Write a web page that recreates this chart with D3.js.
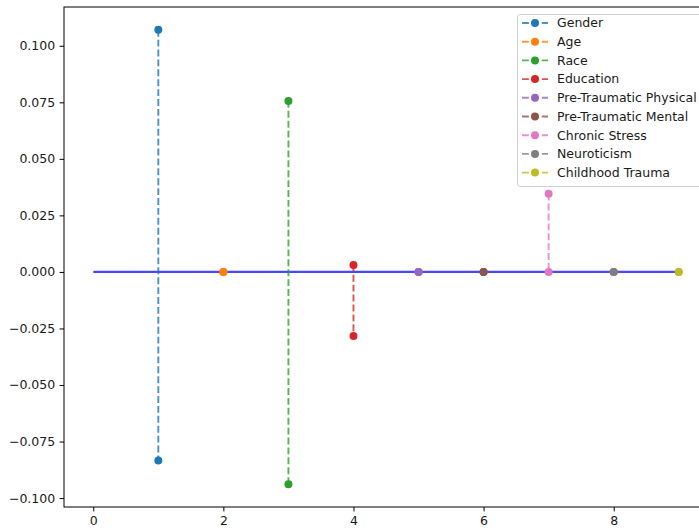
<!DOCTYPE html>
<html>
<head>
<meta charset="utf-8">
<script src="https://cdn.jsdelivr.net/npm/d3@7"></script>
<style>
  html, body { margin: 0; padding: 0; background: #fff; overflow: hidden; }
  svg { display: block; font-family: "DejaVu Sans", sans-serif; }
</style>
</head>
<body>
<svg id="chart" width="699" height="531"></svg>
<script>
// ---- data ----
const categories = ["Gender", "Age", "Race", "Education", "Pre-Traumatic Physical",
  "Pre-Traumatic Mental", "Chronic Stress", "Neuroticism", "Childhood Trauma"];
const xPositions = [1, 2, 3, 4, 5, 6, 7, 8, 9];
const highValues = [0.1071, 0.0, 0.0756, 0.0031, 0.0, 0.0, 0.0346, 0.0, 0.0];
const lowValues  = [-0.0834, 0.0, -0.0939, -0.0283, 0.0, 0.0, 0.0, 0.0, 0.0];
const colors = ["#1f77b4", "#ff7f0e", "#2ca02c", "#d62728", "#9467bd",
  "#8c564b", "#e377c2", "#7f7f7f", "#bcbd22"];
const baselineX = [0, 9];
const baselineY = [0, 0];
const xTicks = [0, 2, 4, 6, 8];
const yTicks = [-0.100, -0.075, -0.050, -0.025, 0.000, 0.025, 0.050, 0.075, 0.100];

// ---- layout ----
const svg = d3.select("#chart");
const mLeft = 64, mTop = 7, mRight = 708, mBottom = 507;
const FS = 12.5;

const xMin = 0, xMax = 9;
const xPad = (xMax - xMin) * 0.05;
const x = d3.scaleLinear().domain([xMin - xPad, xMax + xPad]).range([mLeft, mRight]);
const yLo = d3.min(lowValues), yHi = d3.max(highValues);
const yPad = (yHi - yLo) * 0.05;
const y = d3.scaleLinear().domain([yLo - yPad, yHi + yPad]).range([mBottom, mTop]);

const fmt = v => d3.format(".3f")(v).replace("-", "\u2212");

// axes
const gx = svg.append("g").attr("transform", `translate(0,${mBottom})`)
  .call(d3.axisBottom(x).tickValues(xTicks).tickFormat(d3.format("d")).tickSize(4.4).tickPadding(4.4));
const gy = svg.append("g").attr("transform", `translate(${mLeft},0)`)
  .call(d3.axisLeft(y).tickValues(yTicks).tickFormat(fmt).tickSize(4.4).tickPadding(4.4));
[gx, gy].forEach(g => {
  g.select(".domain").remove();
  g.selectAll("text").attr("font-size", FS).attr("fill", "#1a1a1a")
    .attr("font-family", "DejaVu Sans, sans-serif");
  g.selectAll("line").attr("stroke", "#000").attr("stroke-width", 1);
});

// plot region clip
svg.append("clipPath").attr("id", "clip").append("rect")
  .attr("x", mLeft).attr("y", mTop).attr("width", mRight - mLeft).attr("height", mBottom - mTop);
const plot = svg.append("g").attr("clip-path", "url(#clip)");

// baseline
plot.append("line")
  .attr("x1", x(baselineX[0])).attr("x2", x(baselineX[1]))
  .attr("y1", y(baselineY[0])).attr("y2", y(baselineY[1]))
  .attr("stroke", "#0000ff").attr("stroke-opacity", 0.72).attr("stroke-width", 2.3);

// stems
categories.forEach((c, i) => {
  const g = plot.append("g");
  g.append("line")
    .attr("x1", x(xPositions[i])).attr("x2", x(xPositions[i]))
    .attr("y1", y(highValues[i])).attr("y2", y(lowValues[i]))
    .attr("stroke", colors[i]).attr("stroke-width", 1.9)
    .attr("stroke-dasharray", "6.9,3").attr("stroke-opacity", 0.8);
  [highValues[i], lowValues[i]].forEach(v => {
    g.append("circle").attr("cx", x(xPositions[i])).attr("cy", y(v)).attr("r", 4)
      .attr("fill", colors[i]);
  });
});

// spines
svg.append("rect").attr("x", mLeft).attr("y", mTop)
  .attr("width", mRight - mLeft).attr("height", mBottom - mTop)
  .attr("fill", "none").attr("stroke", "#000").attr("stroke-width", 1);

// legend
const lx = 517, ly = 14, rowH = 18.7;
const leg = svg.append("g");
leg.append("rect").attr("x", lx + 0.5).attr("y", ly + 0.5).attr("rx", 3)
  .attr("width", 190).attr("height", 172)
  .attr("fill", "#fff").attr("fill-opacity", 0.8)
  .attr("stroke", "#d0d0d0").attr("stroke-width", 1);
categories.forEach((c, i) => {
  const cy = ly + 9 + i * rowH;
  leg.append("line").attr("x1", lx + 5).attr("x2", lx + 31)
    .attr("y1", cy).attr("y2", cy)
    .attr("stroke", colors[i]).attr("stroke-width", 1.9)
    .attr("stroke-dasharray", "6.9,3").attr("stroke-opacity", 0.8);
  leg.append("circle").attr("cx", lx + 18).attr("cy", cy).attr("r", 4).attr("fill", colors[i]);
  leg.append("text").attr("x", lx + 40).attr("y", cy).attr("dy", "0.35em")
    .attr("font-size", FS).attr("fill", "#1a1a1a").text(c);
});
</script>
</body>
</html>
